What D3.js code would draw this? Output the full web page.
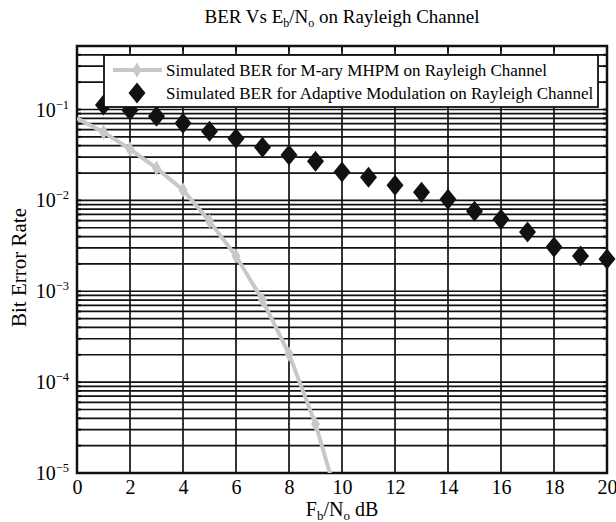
<!DOCTYPE html>
<html>
<head>
<meta charset="utf-8">
<script src="https://cdn.jsdelivr.net/npm/d3@7"></script>
<style>
  body { margin: 0; background: #fff; }
  text { font-family: "Liberation Serif", "Times New Roman", serif; fill: #000; }
</style>
</head>
<body>
<svg width="616" height="522"></svg>
<script>
var snrAdaptive = [1, 2, 3, 4, 5, 6, 7, 8, 9, 10, 11, 12, 13, 14, 15, 16, 17, 18, 19, 20];
var berAdaptive = [0.112, 0.098, 0.0845, 0.0708, 0.0578, 0.0479, 0.0385, 0.0315, 0.027, 0.0205,
  0.018, 0.0147, 0.0123, 0.0103, 0.0076, 0.0062, 0.00448, 0.00306, 0.00244, 0.00226];

var snrMhpm = [0, 1, 2, 3, 4, 5, 6, 7, 8, 9, 10];
var berMhpm = [0.080, 0.0563, 0.0366, 0.0226, 0.0130, 0.0059, 0.00244, 0.0008, 0.000204, 0.0000346, 0.0000035];

var xTicks = [0, 2, 4, 6, 8, 10, 12, 14, 16, 18, 20];
var yDecades = [1e-5, 1e-4, 1e-3, 1e-2, 1e-1];
var yExponents = ["-5", "-4", "-3", "-2", "-1"];

document.addEventListener("DOMContentLoaded", function () {

  var svg = d3.select("svg");
  var left = 77, right = 607, top = 46, bottom = 473;

  var xScale = d3.scaleLinear().domain([0, 20]).range([left, right]);
  var yScale = d3.scaleLog().domain([1e-5, 0.5]).range([bottom, top]);

  // minor grid values 1..9 per decade, up to 0.5
  var gridVals = [];
  yDecades.forEach(function (d) {
    for (var k = 1; k <= 9; k++) {
      var v = d * k;
      if (v <= 0.5 + 1e-9) gridVals.push(v);
    }
  });

  var grid = svg.append("g").attr("id", "grid");

  grid.selectAll("line.h")
    .data(gridVals).enter()
    .append("line")
    .attr("class", "h")
    .attr("x1", left).attr("x2", right)
    .attr("y1", function (d) { return yScale(d); })
    .attr("y2", function (d) { return yScale(d); })
    .style("stroke", "#111")
    .style("stroke-width", "1.7px");

  grid.selectAll("line.v")
    .data(xTicks).enter()
    .append("line")
    .attr("class", "v")
    .attr("x1", function (d) { return xScale(d); })
    .attr("x2", function (d) { return xScale(d); })
    .attr("y1", top).attr("y2", bottom)
    .style("stroke", "#111")
    .style("stroke-width", "1.7px");

  // axes
  var xAxis = d3.axisBottom(xScale).tickValues(xTicks).tickSize(0).tickPadding(7);
  var gx = svg.append("g")
    .attr("transform", "translate(0," + bottom + ")")
    .call(xAxis);
  gx.select("path.domain").remove();
  gx.selectAll("text")
    .style("font-size", "20px")
    .style("font-family", "Liberation Serif")
    .style("fill", "#000");

  var yAxis = d3.axisLeft(yScale).tickValues(yDecades).tickSize(0).tickFormat("");
  var gy = svg.append("g")
    .attr("transform", "translate(" + left + ",0)")
    .call(yAxis);
  gy.select("path.domain").remove();

  var ylab = svg.append("g").selectAll("text")
    .data(yDecades).enter()
    .append("text")
    .attr("x", 69)
    .attr("y", function (d) { return yScale(d) + 7; })
    .attr("text-anchor", "end")
    .style("font-size", "20px");
  ylab.append("tspan").text("10");
  ylab.append("tspan")
    .attr("dy", -8)
    .style("font-size", "12.5px")
    .text(function (d, i) { return "\u2212" + yExponents[i].slice(1); });

  // small inner ticks on left and right edges
  var ticks = svg.append("g");
  gridVals.concat([0.5]).forEach(function (v) {
    ticks.append("line")
      .attr("x1", left).attr("x2", left + 4)
      .attr("y1", yScale(v)).attr("y2", yScale(v))
      .style("stroke", "#111").style("stroke-width", "2px");
    ticks.append("line")
      .attr("x1", right - 4).attr("x2", right)
      .attr("y1", yScale(v)).attr("y2", yScale(v))
      .style("stroke", "#111").style("stroke-width", "2px");
  });
  xTicks.forEach(function (v) {
    ticks.append("line")
      .attr("x1", xScale(v)).attr("x2", xScale(v))
      .attr("y1", top).attr("y2", top + 5)
      .style("stroke", "#111").style("stroke-width", "2px");
  });

  // frame
  svg.append("rect")
    .attr("x", left).attr("y", top)
    .attr("width", right - left).attr("height", bottom - top)
    .style("fill", "none")
    .style("stroke", "#111")
    .style("stroke-width", "2.5px");

  // MHPM curve, clipped to plot
  svg.append("clipPath").attr("id", "plotClip")
    .append("rect")
    .attr("x", left).attr("y", top)
    .attr("width", right - left).attr("height", bottom - top);

  var mhpm = snrMhpm.map(function (d, i) { return { x: d, y: berMhpm[i] }; });
  var line = d3.line()
    .x(function (d) { return xScale(d.x); })
    .y(function (d) { return yScale(d.y); });

  var curveG = svg.append("g").attr("clip-path", "url(#plotClip)");
  curveG.append("path")
    .datum(mhpm)
    .attr("d", line)
    .style("fill", "none")
    .style("stroke", "#c8c8c8")
    .style("stroke-width", "4px");

  curveG.selectAll("path.mk")
    .data(mhpm.slice(1)).enter()
    .append("path")
    .attr("class", "mk")
    .attr("d", d3.symbol().type(d3.symbolDiamond).size(70))
    .attr("transform", function (d) {
      return "translate(" + xScale(d.x) + "," + yScale(d.y) + ")";
    })
    .style("fill", "#c8c8c8");

  // adaptive modulation diamonds
  var diamond = "M0,-10.5L8.5,0L0,10.5L-8.5,0Z";
  svg.append("g").selectAll("path")
    .data(snrAdaptive).enter()
    .append("path")
    .attr("d", diamond)
    .attr("transform", function (d, i) {
      return "translate(" + xScale(d) + "," + yScale(berAdaptive[i]) + ")";
    })
    .style("fill", "#111");

  // legend on top
  var leg = svg.append("g");
  leg.append("rect")
    .attr("x", 104).attr("y", 55)
    .attr("width", 494).attr("height", 52)
    .style("fill", "#fff")
    .style("stroke", "#111")
    .style("stroke-width", "1.8px");
  leg.append("line")
    .attr("x1", 113).attr("x2", 162)
    .attr("y1", 70).attr("y2", 70)
    .style("stroke", "#c8c8c8")
    .style("stroke-width", "4px");
  leg.append("path")
    .attr("d", d3.symbol().type(d3.symbolDiamond).size(70))
    .attr("transform", "translate(137,70)")
    .style("fill", "#c8c8c8");
  leg.append("path")
    .attr("d", diamond)
    .attr("transform", "translate(137,93)")
    .style("fill", "#111");
  leg.append("text")
    .attr("x", 166).attr("y", 76)
    .style("font-size", "17px")
    .text("Simulated BER for M-ary MHPM on Rayleigh Channel");
  leg.append("text")
    .attr("x", 166).attr("y", 99)
    .style("font-size", "17px")
    .text("Simulated BER for Adaptive Modulation on Rayleigh Channel");

  // title
  var title = svg.append("text")
    .attr("x", (left + right) / 2).attr("y", 23)
    .attr("text-anchor", "middle")
    .style("font-size", "19px");
  title.append("tspan").text("BER Vs E");
  title.append("tspan").attr("dy", 4).style("font-size", "12px").text("b");
  title.append("tspan").attr("dy", -4).text("/N");
  title.append("tspan").attr("dy", 4).style("font-size", "12px").text("o");
  title.append("tspan").attr("dy", -4).text(" on Rayleigh Channel");

  // x label
  var xl = svg.append("text")
    .attr("x", (left + right) / 2).attr("y", 516)
    .attr("text-anchor", "middle")
    .style("font-size", "20px");
  xl.append("tspan").text("F");
  xl.append("tspan").attr("dy", 4).style("font-size", "13px").text("b");
  xl.append("tspan").attr("dy", -4).text("/N");
  xl.append("tspan").attr("dy", 4).style("font-size", "13px").text("o");
  xl.append("tspan").attr("dy", -4).text(" dB");

  // y label
  svg.append("text")
    .attr("transform", "translate(26," + ((top + bottom) / 2 + 8) + ") rotate(-90)")
    .attr("text-anchor", "middle")
    .style("font-size", "21px")
    .text("Bit Error Rate");
});
</script>
</body>
</html>
